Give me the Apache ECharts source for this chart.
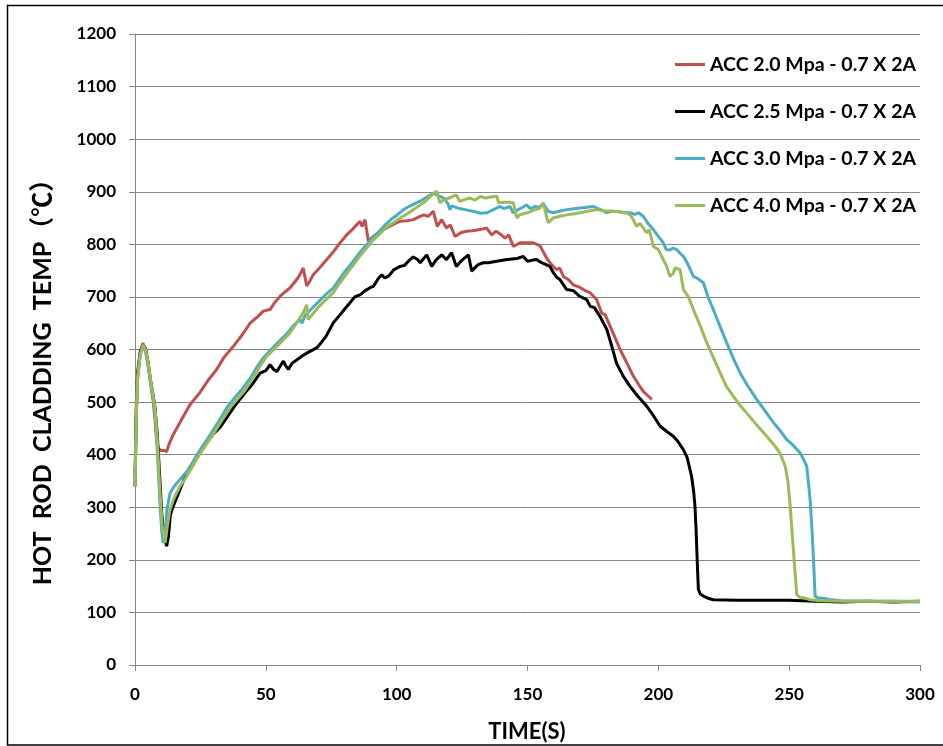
<!DOCTYPE html>
<html>
<head>
<meta charset="utf-8">
<title>Hot rod cladding temperature</title>
<script src="https://cdn.jsdelivr.net/npm/echarts@6/dist/echarts.min.js"></script>
<style>
  html, body { margin: 0; padding: 0; background: #ffffff; }
  #chart { width: 943px; height: 746px; }
</style>
</head>
<body>
<div id="chart"></div>
<script>
// series names (legend order)
var seriesNames = [
  "ACC 2.0 Mpa - 0.7 X 2A",
  "ACC 2.5 Mpa - 0.7 X 2A",
  "ACC 3.0 Mpa - 0.7 X 2A",
  "ACC 4.0 Mpa - 0.7 X 2A"
];
var seriesColors = ["#C0504D", "#000000", "#4BACC6", "#9BBB59"];

// ACC 2.0 Mpa
var acc20Time = [0, 0.5, 1, 2, 3, 4, 5, 6, 7, 7.6, 8.3, 8.9, 10, 11, 12.1, 13, 14.6, 16.5, 18.5, 21, 24.8, 28, 31.2, 34, 37.6, 41, 44, 47, 49, 51.6, 53.5, 55.4, 57, 59.2, 61.8, 63, 64.3, 65.6, 66.8, 68.1, 70.5, 73.3, 76, 78.4, 80.9, 83, 84.7, 86, 86.8, 87.9, 89.2, 91.1, 93.5, 96.2, 98.7, 101.3, 104, 106.4, 108.9, 110.5, 112, 114, 115.5, 117.2, 119, 120.5, 122.3, 124.5, 126.7, 129, 131.9, 134.4, 136.3, 138, 140, 141.4, 142.8, 144.6, 147.1, 150, 152.2, 154.8, 157.3, 158.6, 159.9, 161, 162.3, 163.7, 165.6, 167.5, 170.1, 172, 173.9, 176.4, 178.4, 179.7, 181.6, 183.5, 185.4, 188, 190.5, 192.5, 194.3, 196, 197.5];
var acc20Temp = [360, 500, 560, 595, 612, 600, 570, 535, 500, 470, 425, 412, 408, 408, 406, 420, 438, 455, 473, 495, 518, 542, 562, 585, 606, 628, 650, 663, 673, 676, 690, 701, 708, 717, 733, 742, 755, 721, 730, 742, 755, 771, 787, 803, 818, 828, 837, 844, 834, 847, 806, 815, 824, 831, 838, 844, 845, 847, 853, 856, 853, 863, 834, 847, 831, 837, 815, 822, 825, 826, 828, 831, 818, 825, 818, 812, 818, 796, 803, 803, 803, 797, 774, 765, 758, 752, 755, 739, 733, 723, 718, 712, 708, 695, 669, 666, 644, 622, 600, 574, 549, 533, 520, 512, 505];

// ACC 2.5 Mpa
var acc25Time = [0, 0.5, 1, 2, 3, 4, 5, 6, 7, 7.6, 8.5, 9.3, 10.2, 11, 12.1, 12.8, 13.5, 14.6, 16.5, 18.5, 21, 24, 27, 30, 32.5, 35, 37.6, 40, 42, 45, 47.8, 50, 51.6, 53, 54.2, 56.7, 57.5, 58.6, 60, 61.8, 64, 66, 69.4, 71, 73, 75.8, 78, 80, 82, 84, 86, 88, 90, 91.1, 93, 94.3, 95.5, 97, 99, 101.3, 103, 104.5, 106.3, 108, 109, 111.5, 113.4, 115, 117.2, 119, 121, 122.8, 125, 127.4, 128.7, 131, 133, 135, 138.2, 141, 144, 146, 148.4, 150, 152, 153.5, 155, 157.3, 158.6, 159.9, 161, 162.4, 165, 167.5, 170, 172.6, 174, 175.5, 177.7, 180.3, 182, 184, 186.5, 189.2, 192, 195.6, 198, 200.7, 203, 205.7, 207.5, 209.6, 211, 212.7, 213.5, 214, 214.4, 214.7, 215, 215.3, 216, 217.2, 219, 221, 230, 240, 250, 255, 260, 270, 280, 290, 300];
var acc25Temp = [340, 480, 550, 595, 608, 602, 575, 540, 510, 490, 440, 370, 290, 245, 226, 245, 285, 302, 325, 350, 375, 400, 420, 440, 452, 470, 489, 505, 517, 535, 555, 560, 571, 562, 558, 578, 570, 562, 574, 580, 588, 594, 603, 612, 625, 651, 664, 676, 688, 700, 704, 712, 718, 720, 735, 742, 736, 740, 752, 758, 760, 768, 776, 771, 765, 780, 758, 770, 780, 771, 784, 758, 770, 780, 749, 761, 765, 765, 768, 770, 772, 773, 777, 768, 770, 771, 766, 761, 758, 746, 738, 733, 714, 712, 701, 695, 682, 680, 663, 638, 610, 574, 550, 530, 512, 492, 475, 454, 445, 435, 425, 409, 395, 359, 330, 302, 260, 220, 180, 144, 135, 131, 127, 124, 123, 123, 123, 122, 121, 120, 121, 120, 121];

// ACC 3.0 Mpa
var acc30Time = [0, 0.5, 1, 2, 3, 4, 5, 6, 7, 7.8, 8.6, 9.4, 10.2, 10.8, 11.5, 12.2, 13.4, 15, 17, 19.8, 22, 25, 28, 30, 32.5, 35, 38, 41, 44, 47, 49, 52, 55, 58, 61, 63, 63.8, 65, 67, 70, 73, 75.8, 78, 80, 83, 86, 88.5, 90, 92, 94, 96.2, 98, 100, 102.6, 104, 106, 108.9, 111, 113, 114, 115.5, 116.6, 118, 119.5, 120.4, 121, 124, 127, 130, 132, 134.4, 137, 139.5, 141, 143.3, 144.5, 146, 148, 149.7, 151, 153, 154.5, 156, 157.9, 159.8, 162, 165, 167, 170, 172, 175.1, 177, 179, 180.2, 182, 185, 187, 189.2, 191, 192.5, 194.3, 196, 198.1, 200, 201.9, 203, 204.2, 205.7, 207, 208.3, 209.6, 211, 213.4, 215, 217.2, 219, 221, 223.5, 226.1, 228.5, 231.2, 234, 237.6, 240.5, 244, 246.5, 249, 251.5, 254.2, 255.5, 256.7, 257.5, 258, 258.8, 259.3, 259.9, 261, 263, 266, 270, 280, 290, 300];
var acc30Temp = [340, 480, 545, 590, 605, 598, 570, 535, 505, 470, 400, 320, 255, 232, 250, 295, 327, 340, 352, 368, 385, 410, 432, 448, 467, 489, 508, 525, 545, 570, 584, 600, 615, 630, 648, 657, 650, 665, 675, 690, 705, 717, 733, 747, 765, 785, 799, 808, 818, 828, 840, 848, 855, 866, 870, 875, 882, 888, 894, 898, 893, 891, 888, 878, 866, 873, 868, 865, 862, 859, 860, 866, 872, 868, 872, 860, 865, 870, 875, 868, 872, 870, 878, 863, 860, 863, 866, 867, 869, 870, 872, 868, 864, 860, 863, 862, 860, 860, 857, 860, 853, 840, 828, 815, 803, 790, 789, 793, 790, 783, 777, 765, 739, 735, 727, 700, 676, 645, 613, 585, 556, 532, 505, 485, 461, 446, 429, 418, 403, 391, 378, 340, 315, 250, 201, 131, 128, 127, 124, 122, 121, 121, 120];

// ACC 4.0 Mpa
var acc40Time = [0, 0.5, 1, 2, 3, 4, 5, 6, 7, 7.8, 8.6, 9.4, 10.4, 11.5, 12.3, 13.4, 15, 17, 19.8, 22, 25, 28, 30, 32.5, 36.3, 39, 42, 45, 48, 50.3, 53, 56, 59, 61, 63, 64.5, 65.6, 66.2, 67.5, 70, 73, 75.8, 78, 80, 83, 86, 88.5, 91, 94, 96, 98.7, 101, 103, 106.4, 109, 111, 113, 115.3, 116.5, 118, 120, 122.8, 124, 126, 128, 130, 131.9, 134, 136, 138.2, 139, 141, 143, 144.6, 145.9, 147, 150, 152.5, 154.8, 156, 157.9, 159.8, 162, 165, 168, 170, 173, 176.4, 179, 182.8, 185, 187.9, 189.5, 190.4, 191.7, 193, 195.5, 196.5, 198.1, 200, 201.9, 203.2, 204.4, 205.7, 206.4, 208.3, 209.6, 211.5, 213.4, 216, 218.5, 221, 223.6, 226, 228.7, 231, 233.8, 237, 241.4, 244, 246.5, 248.5, 249.5, 250.4, 251, 251.6, 252.2, 252.9, 254, 255.5, 258, 262, 270, 280, 290, 300];
var acc40Temp = [340, 470, 545, 590, 609, 600, 575, 540, 510, 480, 420, 340, 265, 232, 262, 296, 318, 338, 359, 378, 403, 425, 440, 460, 489, 505, 522, 545, 570, 587, 600, 615, 630, 645, 660, 672, 685, 657, 665, 680, 695, 708, 725, 738, 758, 778, 793, 808, 822, 832, 841, 849, 855, 866, 875, 882, 892, 901, 879, 885, 888, 894, 882, 885, 888, 884, 891, 888, 890, 892, 879, 880, 880, 879, 850, 856, 860, 865, 869, 879, 841, 850, 853, 856, 858, 860, 863, 866, 864, 863, 862, 860, 855, 847, 834, 840, 822, 828, 796, 790, 771, 758, 739, 745, 755, 752, 714, 700, 676, 645, 613, 585, 556, 530, 511, 495, 479, 460, 435, 420, 403, 378, 350, 302, 260, 220, 180, 134, 129, 128, 124, 122, 121, 121, 121, 121];

var seriesTimes = [acc20Time, acc25Time, acc30Time, acc40Time];
var seriesTemps = [acc20Temp, acc25Temp, acc30Temp, acc40Temp];

var fontFamily = "Lato, 'Noto Sans', sans-serif";

function toPairs(t, v) {
  var out = [];
  for (var i = 0; i < t.length; i++) out.push([t[i], v[i]]);
  return out;
}

var series = seriesNames.map(function (name, i) {
  return {
    name: name,
    type: "line",
    symbol: "none",
    data: toPairs(seriesTimes[i], seriesTemps[i]),
    lineStyle: { color: seriesColors[i], width: 3 },
    itemStyle: { color: seriesColors[i] }
  };
});

var option = {
  animation: false,
  backgroundColor: "#ffffff",
  grid: { left: 135, right: 23, top: 34, bottom: 81 },
  legend: {
    orient: "vertical",
    left: 670,
    top: 49,
    itemGap: 26,
    itemWidth: 30,
    itemHeight: 3,
    icon: "rect",
    data: seriesNames,
    textStyle: {
      fontFamily: fontFamily,
      fontWeight: "bold",
      fontSize: 19.5,
      lineHeight: 21,
      color: "#000000"
    }
  },
  xAxis: {
    type: "value",
    min: 0,
    max: 300,
    interval: 50,
    axisLine: { show: true, lineStyle: { color: "#868686", width: 1 } },
    axisTick: { show: true, length: 6, lineStyle: { color: "#868686" } },
    splitLine: { show: false },
    axisLabel: {
      margin: 21,
      color: "#000000",
      fontFamily: fontFamily,
      fontWeight: "bold",
      fontSize: 17
    }
  },
  yAxis: {
    type: "value",
    min: 0,
    max: 1200,
    interval: 100,
    axisLine: { show: true, lineStyle: { color: "#868686", width: 1 } },
    axisTick: { show: true, length: 6, lineStyle: { color: "#868686" } },
    splitLine: { show: true, lineStyle: { color: "#868686", width: 1 } },
    axisLabel: {
      margin: 19,
      color: "#000000",
      fontFamily: fontFamily,
      fontWeight: "bold",
      fontSize: 17,
      formatter: function (v) { return String(v); }
    }
  },
  graphic: [
    {
      type: "rect",
      shape: { x: 7.5, y: 5.5, width: 945, height: 739.5 },
      style: { fill: null, stroke: "#000000", lineWidth: 1.5 },
      silent: true
    },
    {
      type: "text",
      x: 43,
      y: 376,
      rotation: Math.PI / 2,
      style: {
        text: "HOT  ROD  CLADDING  TEMP（℃）",
        fontFamily: "Lato, 'Noto Sans CJK SC', sans-serif",
        fontWeight: "bold",
        fontSize: 25,
        fill: "#000000",
        textAlign: "center",
        textVerticalAlign: "middle"
      }
    },
    {
      type: "text",
      x: 527,
      y: 732,
      style: {
        text: "TIME(S)",
        fontFamily: fontFamily,
        fontWeight: "bold",
        fontSize: 22,
        fill: "#000000",
        textAlign: "center",
        textVerticalAlign: "middle"
      }
    }
  ],
  series: series
};

var myChart = echarts.init(document.getElementById("chart"));
myChart.setOption(option);
</script>
</body>
</html>
